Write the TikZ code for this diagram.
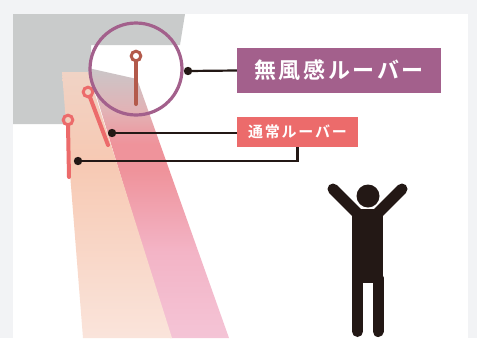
\documentclass[tikz,border=0pt]{standalone}
\usepackage{fontspec}
\newfontfamily\jpfont[LetterSpace=12,BoldFont={Noto Sans CJK JP Bold}]{Noto Sans CJK JP}
\usetikzlibrary{positioning}

\definecolor{pagebg}{HTML}{F2F3F5}
\definecolor{ceiling}{HTML}{C9CBCB}
\definecolor{mufucol}{HTML}{A3608C}
\definecolor{tsujocol}{HTML}{EC6B6B}
\definecolor{louverbrown}{HTML}{B35A4B}
\definecolor{ink}{HTML}{231815}
\definecolor{pinktop}{HTML}{CAC6C8}
\definecolor{pinkfade}{HTML}{E2B2B5}
\definecolor{pinkred}{HTML}{EF939B}
\definecolor{pinkmid}{HTML}{F3B4C6}
\definecolor{pinkbot}{HTML}{F4C4D6}
\definecolor{peachtop}{HTML}{F0D3C5}
\definecolor{peachmid}{HTML}{F7C9B3}
\definecolor{peachbot}{HTML}{FAE4DB}

% beams fade from the ceiling downwards
\pgfdeclareverticalshading{pinkbeam}{100bp}{color(0bp)=(pinkbot); color(25bp)=(pinkbot);
  color(41bp)=(pinkmid); color(56bp)=(pinkred); color(61bp)=(pinkred);
  color(67bp)=(pinkfade); color(75bp)=(pinktop); color(100bp)=(pinktop)}
\pgfdeclareverticalshading{peachbeam}{100bp}{color(0bp)=(peachbot); color(25bp)=(peachbot);
  color(58bp)=(peachmid); color(75bp)=(peachtop); color(100bp)=(peachtop)}

\begin{document}
\begin{tikzpicture}[
    x=1pt, y=-1pt,
    label/.style={
        inner sep=0pt,
        text=white,
        font=\jpfont\bfseries,
    },
    louver/.style={line width=4pt, line cap=round},
    ring/.style={line width=3pt},
    leader/.style={draw=ink, line width=2.2pt},
    dot/.style={fill=ink},
    limb/.style={draw=ink, line width=11pt, line cap=round},
]

\useasboundingbox (0,0) rectangle (477,338);
\fill[pagebg] (0,0) rectangle (477,338);
\fill[white] (13,14) rectangle (468,338);

% air flow
\shade[shading=pinkbeam] (88,68) -- (137,79) -- (229,338) -- (170,338) -- cycle;
\fill[ceiling] (13,14) -- (185,14) -- (180,45) -- (91,45) -- (91,124) -- (13,124) -- cycle;
\shade[shading=peachbeam] (62,72) -- (88,72) -- (172,338) -- (83,338) -- cycle;

% louvers
\draw[louver, louverbrown] (136,61) -- (136,104);
\draw[ring, louverbrown] (136,56) circle (4.8);
\draw[louver, tsujocol] (89.8,96.7) -- (108,145);
\draw[ring, tsujocol] (88,92) circle (4.8);
\draw[louver, tsujocol] (68,125) -- (69,177);
\draw[ring, tsujocol] (68,120) circle (4.8);

\draw[mufucol, line width=3.2pt] (136,69) circle (46);

% labels
\node[label, fill=mufucol, minimum width=204pt, minimum height=45pt, font=\jpfont\bfseries\fontsize{22}{22}\selectfont]
    (mufu) at (339,70.5) {無風感ルーバー};
\node[label, fill=tsujocol, minimum width=121pt, minimum height=30pt, font=\jpfont\bfseries\fontsize{15}{15}\selectfont]
    (tsujo) at (297.5,132) {通常ルーバー};

\coordinate (mufudot) at (188,71);
\coordinate (middot) at (112,133);
\coordinate (lowdot) at (78,161);

\draw[leader] (mufudot) -- (mufu.west);
\draw[leader] (middot) -- (middot -| tsujo.west);
\draw[leader] (lowdot) -| (tsujo.south);
\foreach \d in {mufudot, middot, lowdot}
    \fill[dot] (\d) circle (4.2);

% person
\draw[limb] (360,216) -- (333,189);
\draw[limb] (375,216) -- (402,189);
\draw[limb] (357.5,278) -- (357.5,331.5);
\draw[limb] (378,278) -- (378,331.5);
\fill[ink] (352,209) rectangle (383,283);
\fill[ink] (368,196) circle (11.5);

\end{tikzpicture}
\end{document}
